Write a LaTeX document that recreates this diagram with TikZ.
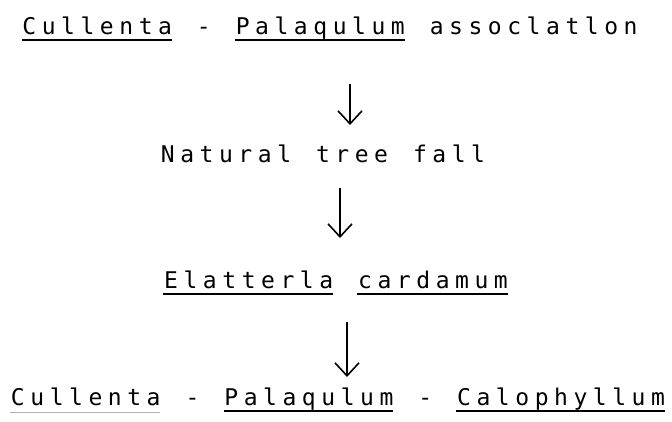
\documentclass[tikz,border=0pt]{standalone}
\usepackage{fontspec}
\setmonofont{DejaVu Sans Mono}
\usetikzlibrary{arrows.meta}
\newlength\pitch
\setlength\pitch{19.4pt}
\makeatletter
\newcommand\tww[1]{\@tfor\tw@c:=#1\do{\makebox[\pitch][c]{\tw@c}}}
\makeatother
\newcommand\spc{\hspace*{\pitch}}
\newcommand\ulw[1]{\setbox0\hbox{\tww{#1}}\rlap{\hspace*{2pt}\rule[-7pt]{\dimexpr\wd0-5pt\relax}{1.8pt}}\box0}
\newcommand\ulg[1]{\setbox0\hbox{\tww{#1}}\rlap{\hspace*{2pt}\textcolor{black!30}{\rule[-7.5pt]{\dimexpr\wd0-5pt\relax}{0.9pt}}}\box0}
\tikzset{
  line/.style={inner sep=0pt, anchor=base, font=\ttfamily\fontsize{23pt}{23pt}\selectfont},
  arr/.style={line width=2.2pt, -{Straight Barb[length=13pt, width=24pt, line width=1.6pt]}}
}
\begin{document}
\begin{tikzpicture}[x=1pt,y=-1pt]
\useasboundingbox (0,0) rectangle (672,421);
\node[line] (l1) at (330,34) {\ulw{Cullenta}\spc\tww{-}\spc\ulw{Palaqulum}\spc\tww{assoclatlon}};
\node[line] (l2) at (323,162) {\tww{Natural}\spc\tww{tree}\spc\tww{fall}};
\node[line] (l3) at (336,288) {\ulw{Elatterla}\spc\ulw{cardamum}};
\node[line] (l4) at (338,405) {\ulg{Cullenta}\spc\tww{-}\spc\ulw{Palaqulum}\spc\tww{-}\spc\ulw{Calophyllum}};
\coordinate (a1t) at (350,84);
\coordinate (a1b) at (350,125);
\coordinate (a2t) at (340,188);
\coordinate (a2b) at (340,238);
\coordinate (a3t) at (347,322);
\coordinate (a3b) at (347,377);
\draw[arr] (a1t) -- (a1b);
\draw[arr] (a2t) -- (a2b);
\draw[arr] (a3t) -- (a3b);
\end{tikzpicture}
\end{document}
